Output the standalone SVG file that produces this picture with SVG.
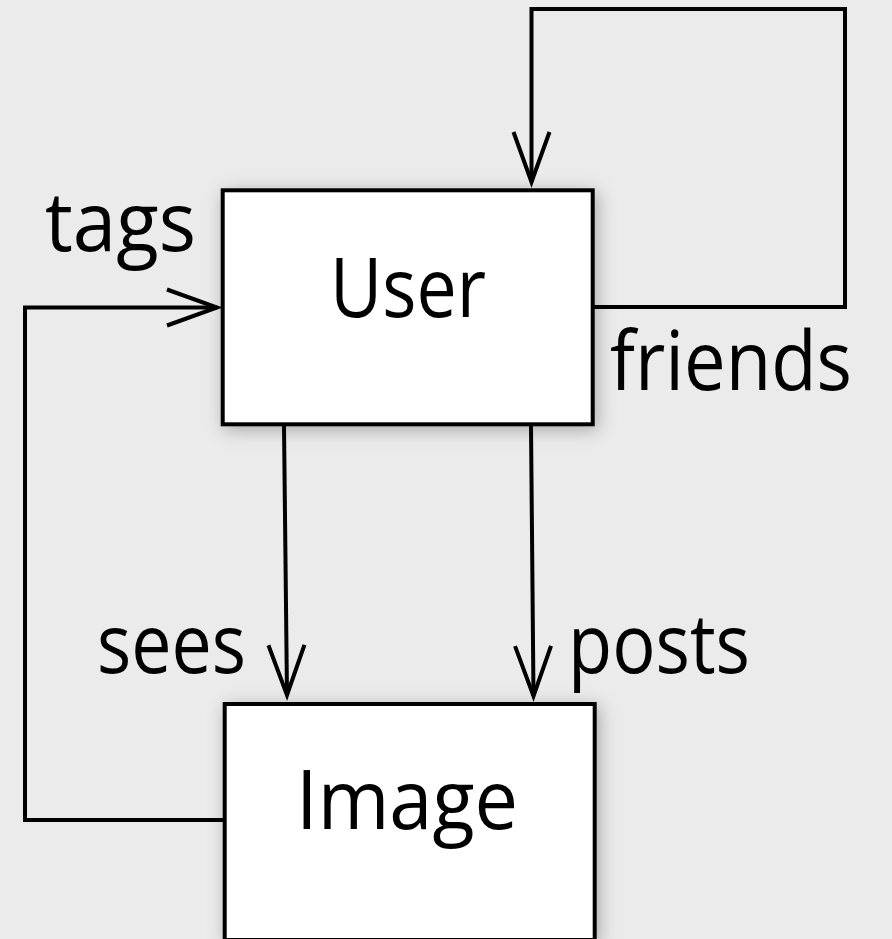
<svg xmlns="http://www.w3.org/2000/svg" width="892" height="939" viewBox="0 0 892 939">
  <style>
    .box { fill: #ffffff; stroke: #000000; stroke-width: 4; filter: url(#shadow); }
    .lbl { font-family: "Open Sans", "Noto Sans", sans-serif; font-size: 82px; fill: #000000; }
    .edge { fill: none; stroke: #000000; stroke-width: 4; marker-end: url(#arr); }
  </style>
  <defs>
    <filter id="shadow" x="-20%" y="-20%" width="140%" height="140%">
      <feDropShadow dx="3" dy="4" stdDeviation="9" flood-color="#000000" flood-opacity="0.28"/>
    </filter>
    <marker id="arr" markerUnits="userSpaceOnUse" orient="auto" overflow="visible" markerWidth="1" markerHeight="1" refX="0" refY="0">
      <path d="M-50,-18 L0,0 L-50,18" fill="none" stroke="#000000" stroke-width="4" stroke-linejoin="miter"/>
    </marker>
  </defs>
  <rect width="892" height="939" fill="#ebebeb"/>

  <g id="node-user">
    <rect class="box" x="222.7" y="190.3" width="370" height="234"/>
    <text class="lbl" x="330" y="316.5" textLength="156" lengthAdjust="spacingAndGlyphs">User</text>
  </g>
  <g id="node-image">
    <rect class="box" x="224.7" y="704" width="370" height="236"/>
    <text class="lbl" x="296" y="829" textLength="222" lengthAdjust="spacingAndGlyphs">Image</text>
  </g>

  <g id="connectors">
    <path class="edge" d="M593,307 H845 V9 H531.5 V182"/>
    <path class="edge" d="M224,820 H25 V307.5 H217"/>
    <path class="edge" d="M284,426 L287,695"/>
    <path class="edge" d="M531,426 L533.5,696"/>
  </g>

  <g id="labels">
    <text class="lbl" x="45" y="251" textLength="151" lengthAdjust="spacingAndGlyphs">tags</text>
    <text class="lbl" x="610" y="390" textLength="242" lengthAdjust="spacingAndGlyphs">friends</text>
    <text class="lbl" x="97" y="673" textLength="149" lengthAdjust="spacingAndGlyphs">sees</text>
    <text class="lbl" x="568" y="673" textLength="182" lengthAdjust="spacingAndGlyphs">posts</text>
  </g>
</svg>
